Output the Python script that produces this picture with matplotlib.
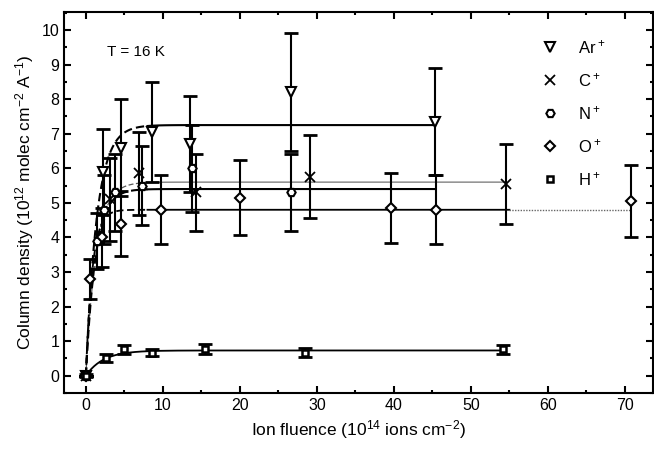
import matplotlib
matplotlib.use("Agg")
import matplotlib.pyplot as plt
import numpy as np
from matplotlib.ticker import MultipleLocator

plt.rcParams['font.family'] = ['Liberation Sans', 'DejaVu Sans']
plt.rcParams['mathtext.default'] = 'regular'

# data (fluence in 1e14 ions/cm2, column density in 1e12)
ar_x = [0, 2.2, 4.6, 8.6, 13.5, 26.6, 45.3]
ar_y = [0, 5.9, 6.6, 7.05, 6.7, 8.2, 7.35]
ar_err = [0, 1.25, 1.4, 1.45, 1.4, 1.7, 1.55]

c_x = [0, 3.2, 6.9, 14.3, 29.1, 54.5]
c_y = [0, 5.1, 5.85, 5.3, 5.75, 5.55]
c_err = [0, 1.2, 1.2, 1.1, 1.2, 1.15]

n_x = [0, 1.4, 2.3, 3.8, 7.3, 13.8, 26.7]
n_y = [0, 3.9, 4.8, 5.3, 5.5, 6.0, 5.3]
n_err = [0, 0.8, 1.0, 1.1, 1.15, 1.25, 1.12]

o_x = [0, 0.5, 2.1, 4.6, 9.8, 20.0, 39.6, 45.5, 70.8]
o_y = [0, 2.8, 4.0, 4.4, 4.8, 5.15, 4.85, 4.8, 5.05]
o_err = [0, 0.58, 0.85, 0.95, 1.0, 1.08, 1.02, 1.0, 1.05]

h_x = [0, 2.6, 5.0, 8.6, 15.5, 28.5, 54.2]
h_y = [0, 0.52, 0.76, 0.66, 0.78, 0.67, 0.76]
h_err = [0.05, 0.11, 0.13, 0.1, 0.14, 0.12, 0.13]

# exponential fits N = Nsat*(1-exp(-s*F))
fit_sat = [7.25, 5.6, 5.4, 4.8, 0.73]
fit_rate = [0.7, 0.75, 0.8, 1.2, 0.44]
fit_end = [45.3, 54.5, 45.4, 70.8, 54.2]

fig = plt.figure(figsize=(6.54, 4.5), dpi=100)
ax = fig.add_axes([0.0983, 0.1267, 0.8997, 0.8473])

# fits
for sat, k, end, i in zip(fit_sat, fit_rate, fit_end, range(5)):
    xk = np.linspace(0, 8, 200)
    xs = np.linspace(8, end, 50)
    if i == 1:
        ax.plot(xk, sat * (1 - np.exp(-k * xk)), color='0.35', lw=0.9, ls=(0, (4, 2)))
        ax.plot(xs, sat * (1 - np.exp(-k * xs)), color='0.45', lw=0.9)
    elif i == 3:
        ax.plot(xk, sat * (1 - np.exp(-k * xk)), color='k', lw=1.3, ls=(0, (4, 2)))
        xa = np.linspace(8, 55, 50)
        ax.plot(xa, sat * (1 - np.exp(-k * xa)), color='k', lw=1.3)
        xb = np.linspace(55, end, 20)
        ax.plot(xb, sat * (1 - np.exp(-k * xb)), color='0.4', lw=1.0, ls=(0, (1, 1)))
    elif i == 4:
        xh = np.linspace(0, end, 300)
        ax.plot(xh, sat * (1 - np.exp(-k * xh)), color='k', lw=1.3)
    else:
        ax.plot(xk, sat * (1 - np.exp(-k * xk)), color='k', lw=1.5, ls=(0, (4, 2)))
        ax.plot(xs, sat * (1 - np.exp(-k * xs)), color='k', lw=1.5)

eb = dict(fmt='none', ecolor='k', elinewidth=1.5, capsize=5, capthick=2)
ax.errorbar(ar_x, ar_y, yerr=ar_err, **eb)
ax.errorbar(c_x, c_y, yerr=c_err, **eb)
ax.errorbar(n_x, n_y, yerr=n_err, **eb)
ax.errorbar(o_x, o_y, yerr=o_err, **eb)
ax.errorbar(h_x, h_y, yerr=h_err, **eb)

ax.plot(ar_x, ar_y, 'v', ms=7, mfc='white', mec='k', mew=1.5, label='Ar$^+$')
ax.plot(c_x, c_y, 'x', ms=7, mec='k', mew=1.3, label='C$^+$')
ax.plot(n_x, n_y, 'H', ms=6, mfc='white', mec='k', mew=1.5, label='N$^+$')
ax.plot(o_x, o_y, 'D', ms=5.5, mfc='white', mec='k', mew=1.5, label='O$^+$')
ax.plot(h_x, h_y, 's', ms=5, mfc='white', mec='k', mew=1.8, label='H$^+$')

ax.text(2.7, 9.37, 'T = 16 K', fontsize=11, va='center')

ax.set_xlim(-2.8, 73.6)
ax.set_ylim(-0.5, 10.53)
ax.xaxis.set_major_locator(MultipleLocator(10))
ax.xaxis.set_minor_locator(MultipleLocator(5))
ax.yaxis.set_major_locator(MultipleLocator(1))
ax.yaxis.set_minor_locator(MultipleLocator(0.5))
ax.tick_params(which='both', direction='in', top=True, right=True, labelsize=11.5, width=1.5)
ax.tick_params(which='major', length=5)
ax.tick_params(which='minor', length=2.5)
for s in ax.spines.values():
    s.set_linewidth(1.5)

ax.set_xlabel('Ion fluence (10$^{14}$ ions cm$^{-2}$)', fontsize=12.5)
ax.set_ylabel('Column density (10$^{12}$ molec cm$^{-2}$ A$^{-1}$)', fontsize=12.5)

ax.legend(loc='upper right', bbox_to_anchor=(0.945, 0.97), frameon=False, fontsize=12,
          handletextpad=1.2, labelspacing=0.9, handlelength=1.0)

fig.savefig('out.png', dpi=100)
